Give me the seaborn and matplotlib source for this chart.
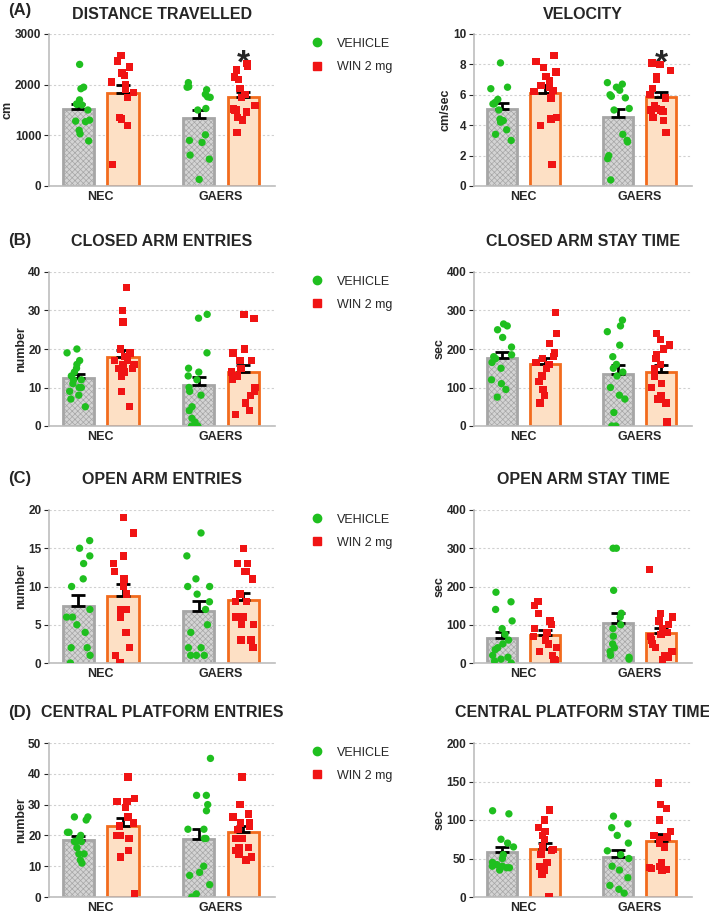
import numpy as np
import pandas as pd
import seaborn as sns
import matplotlib.pyplot as plt

groups = ["NEC", "GAERS"]
treatments = ["VEHICLE", "WIN 2 mg"]

# values: [NEC veh, NEC win, GAERS veh, GAERS win]
distance = [
    [2400, 1950, 1920, 1700, 1620, 1600, 1610, 1500, 1300, 1280, 1270, 1100, 1030, 890],
    [2580, 2470, 2350, 2230, 2180, 2050, 1990, 1950, 1900, 1850, 1750, 1350, 1320, 1190, 430],
    [2040, 1960, 1950, 1900, 1810, 1760, 1750, 1530, 1500, 1010, 900, 860, 610, 530, 130],
    [2420, 2360, 2290, 2150, 2100, 1920, 1810, 1750, 1590, 1520, 1500, 1490, 1460, 1350, 1300, 1060],
]
velocity = [
    [8.1, 6.5, 6.4, 5.7, 5.4, 5.4, 5.5, 5.0, 4.4, 4.3, 4.2, 3.7, 3.4, 3.0],
    [8.6, 8.2, 7.8, 7.5, 7.2, 6.9, 6.6, 6.5, 6.3, 6.2, 5.8, 4.5, 4.4, 4.0, 1.4],
    [6.8, 6.7, 6.5, 6.3, 6.0, 5.9, 5.8, 5.1, 5.0, 3.4, 3.0, 2.9, 2.0, 1.8, 0.4],
    [8.1, 8.0, 7.6, 7.2, 7.0, 6.4, 6.0, 5.8, 5.3, 5.1, 5.0, 5.0, 4.9, 4.5, 4.3, 3.5],
]
closed_entries = [
    [20, 19, 17, 16, 15, 14, 13, 12, 12, 11, 10, 10, 9, 8, 7, 5],
    [36, 30, 27, 20, 19, 18, 17, 17, 16, 16, 15, 15, 14, 13, 9, 5],
    [29, 28, 19, 15, 14, 13, 12, 10, 9, 8, 5, 4, 2, 1, 0, 0],
    [29, 28, 20, 19, 17, 17, 15, 14, 13, 12, 10, 9, 8, 6, 4, 3],
]
closed_time = [
    [265, 260, 250, 230, 205, 185, 180, 175, 165, 150, 120, 110, 95, 75],
    [295, 240, 215, 190, 180, 175, 165, 160, 150, 130, 115, 95, 80, 60],
    [275, 260, 245, 210, 180, 160, 150, 140, 130, 100, 80, 70, 35, 0, 0],
    [240, 225, 210, 200, 185, 175, 160, 150, 130, 110, 100, 80, 70, 60, 10],
]
open_entries = [
    [16, 15, 14, 13, 11, 10, 7, 6, 6, 5, 4, 2, 2, 1, 0],
    [19, 17, 14, 13, 12, 11, 10, 9, 7, 7, 6, 4, 2, 1, 0],
    [17, 14, 11, 10, 10, 9, 8, 7, 5, 4, 2, 2, 1, 1, 1],
    [15, 13, 13, 12, 12, 11, 9, 8, 8, 6, 6, 5, 5, 3, 3, 2],
]
open_time = [
    [185, 160, 140, 110, 90, 75, 60, 50, 40, 35, 20, 15, 10, 5, 0],
    [160, 150, 130, 110, 100, 90, 80, 70, 60, 50, 40, 30, 20, 10, 5],
    [300, 300, 190, 130, 120, 100, 90, 70, 50, 40, 30, 20, 15, 10],
    [245, 130, 120, 110, 100, 90, 80, 75, 70, 60, 50, 40, 30, 20, 15, 10],
]
central_entries = [
    [26, 26, 25, 21, 21, 20, 19, 18, 18, 18, 16, 14, 14, 12, 11],
    [39, 32, 31, 31, 29, 26, 24, 23, 20, 20, 19, 15, 13, 1],
    [45, 33, 33, 30, 28, 22, 22, 19, 19, 10, 8, 7, 4, 1, 0],
    [39, 30, 27, 26, 24, 24, 23, 22, 19, 19, 16, 16, 15, 14, 13, 12],
]
central_time = [
    [112, 108, 75, 70, 65, 55, 50, 45, 42, 40, 38, 38, 35, 40],
    [113, 100, 90, 85, 80, 75, 65, 62, 60, 55, 45, 40, 35, 30, 1],
    [105, 95, 90, 80, 70, 60, 55, 50, 40, 35, 25, 15, 10, 5],
    [148, 120, 115, 100, 85, 80, 78, 75, 70, 65, 45, 40, 38, 37, 36, 35],
]

panels = [
    ("(A)", "DISTANCE TRAVELLED", "cm", distance, 3000, 1000, True),
    ("", "VELOCITY", "cm/sec", velocity, 10, 2, True),
    ("(B)", "CLOSED ARM ENTRIES", "number", closed_entries, 40, 10, False),
    ("", "CLOSED ARM STAY TIME", "sec", closed_time, 400, 100, False),
    ("(C)", "OPEN ARM ENTRIES", "number", open_entries, 20, 5, False),
    ("", "OPEN ARM STAY TIME", "sec", open_time, 400, 100, False),
    ("(D)", "CENTRAL PLATFORM ENTRIES", "number", central_entries, 50, 10, False),
    ("", "CENTRAL PLATFORM STAY TIME", "sec", central_time, 200, 50, False),
]

sns.set_style("ticks")
plt.rcParams["font.family"] = ["Liberation Sans", "DejaVu Sans"]
plt.rcParams["hatch.color"] = "#8c8c8c"
plt.rcParams["hatch.linewidth"] = 0.5

fig = plt.figure(figsize=(7.09, 9.15), dpi=100)
W, H = 709, 915
lefts = [49, 474]
widths = [226, 218]
tops = [34, 272, 510, 743]
bottoms = [186, 426, 663, 897]
title_gap = [23, 31, 31, 31]

offsets = {"VEHICLE": -0.185, "WIN 2 mg": 0.185}
bar_style = {
    "VEHICLE": dict(color="#d4d4d4", edgecolor="#a6a6a6", hatch="xxxxxx"),
    "WIN 2 mg": dict(color="#fde0c5", edgecolor="#f26b1d", hatch=None),
}
pt_style = {"VEHICLE": ("o", "#1fbf1f"), "WIN 2 mg": ("s", "#f01414")}

for i, (lab, title, ylab, vals, ymax, ystep, star) in enumerate(panels):
    r, c = divmod(i, 2)
    ax = fig.add_axes([lefts[c] / W, 1 - bottoms[r] / H, widths[c] / W,
                       (bottoms[r] - tops[r]) / H])
    rows = []
    for k, v in enumerate(vals):
        g = groups[k // 2]
        t = treatments[k % 2]
        for y in v:
            rows.append({"group": g, "treat": t, "value": y})
    df = pd.DataFrame(rows)
    df["x"] = df["group"].map({"NEC": 0, "GAERS": 1}) + df["treat"].map(offsets)
    stats = df.groupby(["group", "treat", "x"])["value"].agg(["mean", "sem"]).reset_index()

    for t in treatments:
        s = stats[stats["treat"] == t]
        ax.bar(s["x"], s["mean"], width=0.26, linewidth=2, zorder=2, **bar_style[t])
        ax.errorbar(s["x"], s["mean"], yerr=[np.zeros(len(s)), s["sem"]], fmt="none",
                    ecolor="black", elinewidth=2, capsize=5, capthick=2, zorder=3)

    np.random.seed(i)
    for t in treatments:
        d = df[df["treat"] == t].copy()
        d["xj"] = d["x"] + np.random.uniform(-0.1, 0.1, len(d))
        m, col = pt_style[t]
        sns.scatterplot(data=d, x="xj", y="value", marker=m, color=col, s=28,
                        edgecolor="none", ax=ax, zorder=4, legend=False)

    if star:
        ax.text(1 + offsets["WIN 2 mg"], ymax * 0.8, "*", ha="center", va="center",
                fontsize=24, fontweight="bold")

    ax.set_xlim(-0.43, 1.45)
    ax.set_ylim(0, ymax)
    ax.set_yticks(np.arange(0, ymax + 0.001, ystep))
    ax.set_xticks([0, 1])
    ax.set_xticklabels(groups, fontweight="bold", fontsize=9)
    ax.tick_params(axis="y", labelsize=8.5, pad=2)
    ax.tick_params(axis="x", length=0)
    for tl in ax.get_yticklabels():
        tl.set_fontweight("bold")
    ax.set_xlabel("")
    ax.set_ylabel(ylab, fontweight="bold", fontsize=9, labelpad=1)
    ax.yaxis.grid(True, linestyle=(0, (2, 2)), color="#d0d0d0", linewidth=0.8)
    ax.set_axisbelow(True)
    sns.despine(ax=ax)
    for sp in ["left", "bottom"]:
        ax.spines[sp].set_color("#bdbdbd")
        ax.spines[sp].set_linewidth(1.2)
    ax.set_title(title, fontweight="bold", fontsize=11.5, pad=title_gap[r] - 12)
    if lab:
        fig.text(8 / W, 1 - (tops[r] - title_gap[r]) / H, lab, fontweight="bold",
                 fontsize=12, va="center")
        h = [plt.Line2D([], [], marker=pt_style[t][0], color=pt_style[t][1],
                        linestyle="none", markersize=6) for t in treatments]
        ax.legend(h, treatments, loc="upper left", bbox_to_anchor=(1.08, 1.05),
                  frameon=False, fontsize=9, handletextpad=0.6, labelspacing=0.9)

fig.savefig("out.png", dpi=100)
